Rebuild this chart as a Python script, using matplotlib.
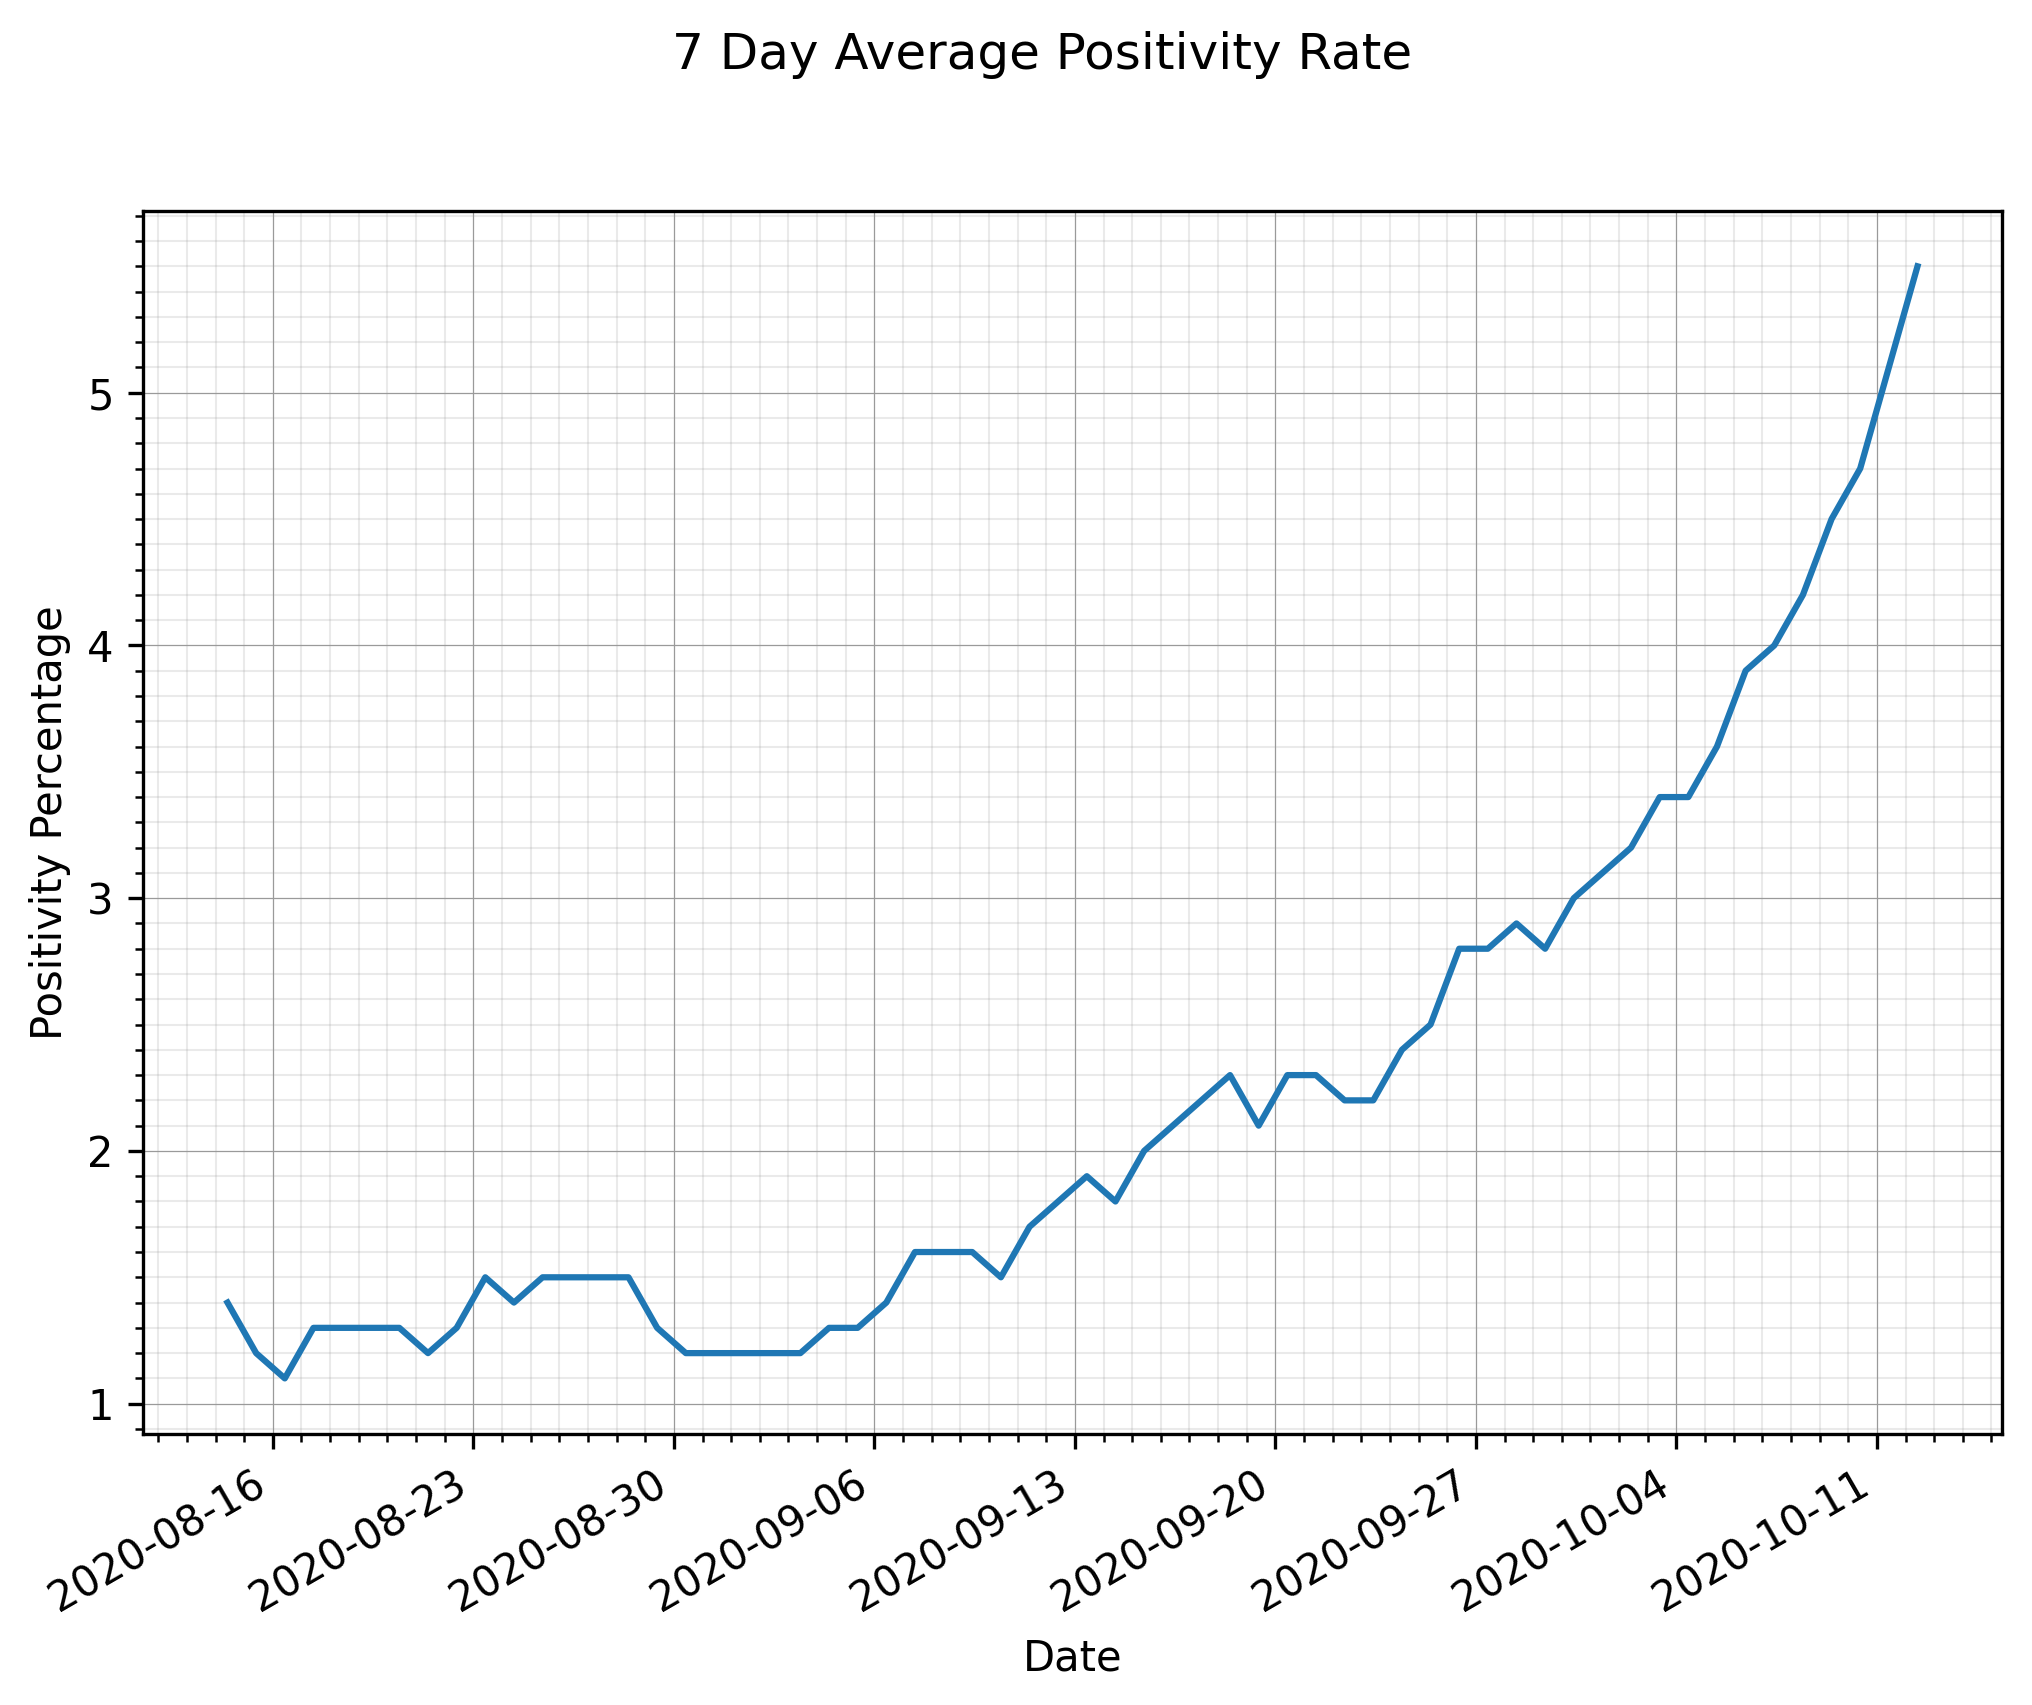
import matplotlib
matplotlib.use("Agg")
import matplotlib.pyplot as plt
import matplotlib.dates as mdates
from matplotlib.ticker import MultipleLocator
import pandas as pd

start_date = "2020-08-14 10:00"
n_days = 60
positivity = [1.4, 1.2, 1.1, 1.3, 1.3, 1.3, 1.3, 1.2, 1.3, 1.5,
              1.4, 1.5, 1.5, 1.5, 1.5, 1.3, 1.2, 1.2, 1.2, 1.2,
              1.2, 1.3, 1.3, 1.4, 1.6, 1.6, 1.6, 1.5, 1.7, 1.8,
              1.9, 1.8, 2.0, 2.1, 2.2, 2.3, 2.1, 2.3, 2.3, 2.2,
              2.2, 2.4, 2.5, 2.8, 2.8, 2.9, 2.8, 3.0, 3.1, 3.2,
              3.4, 3.4, 3.6, 3.9, 4.0, 4.2, 4.5, 4.7, 5.1, 5.5]
dates = pd.date_range(start=start_date, periods=n_days, freq="D")

W, H, DPI = 2032, 1705, 300
fig = plt.figure(figsize=(W / DPI, H / DPI), dpi=DPI)
left, right, bottom, top = 143, 2002, 1434, 210.7
ax = fig.add_axes([left / W, 1 - bottom / H, (right - left) / W, (bottom - top) / H])

ax.plot(dates, positivity, color="#1f77b4", linewidth=1.5)

ax.xaxis.set_major_locator(mdates.WeekdayLocator(byweekday=mdates.SU))
ax.xaxis.set_minor_locator(mdates.DayLocator())
ax.xaxis.set_major_formatter(mdates.DateFormatter("%Y-%m-%d"))
ax.yaxis.set_major_locator(MultipleLocator(1))
ax.yaxis.set_minor_locator(MultipleLocator(0.1))

ax.grid(which="major", color="#9a9a9a", linestyle="-", linewidth=0.3)
ax.grid(which="minor", color="#999999", linestyle="-", linewidth=0.5, alpha=0.2)

plt.setp(ax.get_xticklabels(), rotation=30, ha="right")
ax.set_xlabel("Date")
ax.set_ylabel("Positivity Percentage")
fig.suptitle("7 Day Average Positivity Rate", x=0.513, y=0.982)

fig.savefig("out.png", dpi=DPI)
